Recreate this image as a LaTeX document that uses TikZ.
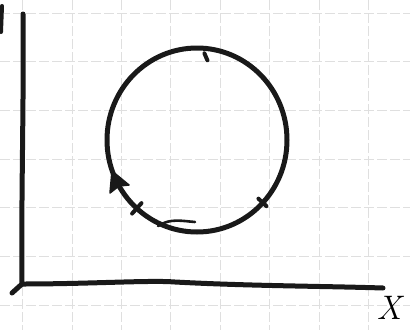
\documentclass[tikz,border=0pt]{standalone}
\usetikzlibrary{arrows.meta}
\begin{document}
\begin{tikzpicture}[x=1pt,y=-1pt,
  gridline/.style={draw=gray!25,line width=0.9pt,dash pattern=on 10pt off 3pt},
  ink/.style={draw=black!90,line width=5pt,line cap=round,line join=round},
  thinink/.style={draw=black!90,line width=2.6pt,line cap=round},
  tickmark/.style={draw=black!90,line width=4pt,line cap=round},
  headfill/.style={fill=black!90,draw=black!90,line width=1.5pt,line join=round}]
\useasboundingbox (0,0) rectangle (410,330);
\fill[white] (0,0) rectangle (410,330);
% grid paper
\foreach \gx in {22.6,72,121.4,170.8,220.2,269.6,319,368.4}
  \draw[gridline] (\gx,0) -- (\gx,330);
\foreach \gy in {13,61.7,110.4,159.1,207.8,256.5,305.2}
  \draw[gridline] (0,\gy) -- (410,\gy);
% axes
\coordinate (ytop) at (23,14);
\coordinate (origin) at (22,284);
\coordinate (hook) at (12,293);
\coordinate (xend) at (383,288);
\draw[ink] (ytop) .. controls (24,100) and (21,200) .. (origin) -- (hook);
\draw[ink] (origin) .. controls (90,284) and (150,280) .. (175,282)
  .. controls (250,286) and (320,286) .. (xend);
\draw[ink,line width=4pt] (2,6) -- (1,32);
\node[font=\fontsize{34}{34}\selectfont\itshape,inner sep=0pt] (xlabel) at (389,308) {X};
% circle
\coordinate (c) at (197,140);
\draw[ink] (c) ellipse [x radius=90, y radius=92];
% direction arrow (filled head)
\coordinate (tip) at (112,171);
\coordinate (bl) at (110,193);
\coordinate (br) at (129,185);
\coordinate (notch) at (119,186);
\draw[headfill] (tip) -- (br) -- (notch) -- (bl) -- cycle;
% tick marks
\draw[tickmark] (c) ++(275:85 and 87) -- ++(3,7);
\draw[tickmark] (c) ++(132:83 and 85) -- ++(132:14 and 14);
\draw[tickmark] (c) ++(43:84 and 86) -- ++(43:11 and 11);
% squiggle
\coordinate (sq1) at (158,226);
\coordinate (sq2) at (195,222);
\draw[thinink] (sq1) .. controls (170,218) and (182,221) .. (sq2);
\end{tikzpicture}
\end{document}
